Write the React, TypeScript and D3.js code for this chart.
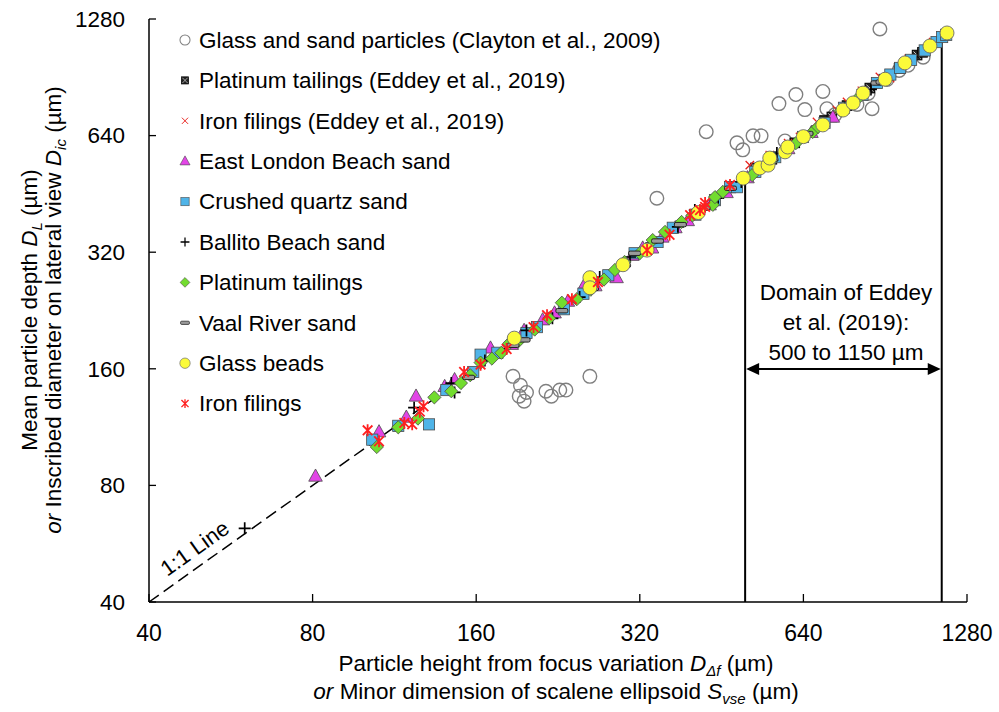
import React from "react";
import * as d3 from "d3";

const WIDTH = 999;
const HEIGHT = 712;
const FONT = "'Liberation Sans', Arial, sans-serif";

// Log2 axis ticks (µm)
const AXIS_TICKS = [40, 80, 160, 320, 640, 1280];

type Pt = [number, number];

// [particle height / minor dimension (µm), mean depth / inscribed diameter (µm)]
const claytonGlassSand: Pt[] = [
  [344, 441], [424, 655], [483, 613], [495, 588], [517, 639], [535, 639], [577, 774],
  [592, 620], [620, 817], [644, 747], [695, 832], [707, 751], [732, 725], [803, 770],
  [842, 822], [856, 751], [912, 894], [960, 943], [997, 972], [1063, 1020], [885, 1206],
  [187, 153], [193, 145], [192, 136], [198, 139], [196, 132], [215, 140], [220, 136],
  [228, 141], [234, 141], [259, 153],
];

const eddeyPlatinum: Pt[] = [
  [522, 528], [560, 556], [617, 613], [700, 700], [722, 715], [770, 765], [848, 849],
  [900, 895], [960, 955], [1036, 1033], [1060, 1050],
];

const eddeyIron: Pt[] = [
  [510, 537], [555, 570], [600, 612], [631, 635], [678, 694], [738, 745], [770, 782],
  [820, 835], [885, 907], [924, 901], [1000, 1010], [1109, 1116], [1125, 1120],
];

const eastLondonSand: Pt[] = [
  [81, 84.5], [106, 110], [119, 120], [124, 136], [140, 144], [146, 150], [170, 181],
  [186, 185], [196, 201], [212, 214], [223, 223], [236, 239], [254, 266], [265, 262],
  [290, 275], [310, 314], [324, 328], [337, 328], [352, 350], [372, 370], [392, 386],
  [430, 424], [462, 456], [505, 498], [548, 540], [600, 592], [662, 652], [725, 714],
];

const crushedQuartz: Pt[] = [
  [103, 105], [115, 114], [131, 115], [141, 141], [158, 157], [163, 174], [175, 176],
  [198, 198], [207, 205], [232, 228], [252, 250], [280, 279], [313, 318], [345, 340],
  [368, 370], [405, 400], [440, 436], [469, 471], [483, 471], [522, 516], [568, 563],
  [639, 635], [700, 690], [760, 755], [822, 815], [874, 875], [925, 920], [964, 957],
  [1010, 1004], [1070, 1062], [1125, 1116], [1152, 1150], [1172, 1165],
];

const ballitoSand: Pt[] = [
  [60, 62], [123, 127], [144, 147], [146, 139], [166, 168], [198, 201], [221, 216],
  [248, 245], [270, 276], [307, 311], [336, 338], [376, 372], [404, 411], [446, 441],
  [492, 486], [541, 534], [572, 577], [612, 606], [680, 672], [762, 752], [852, 842],
];

const platinumTailings: Pt[] = [
  [105, 100.5], [115, 113], [125, 119], [134, 135], [144, 140], [150, 147], [156, 154],
  [163, 166], [171, 170], [178, 176], [184, 186], [191, 188], [205, 202], [218, 216],
  [230, 237], [245, 242], [260, 256], [275, 272], [288, 288], [300, 302], [320, 318],
  [338, 344], [356, 361], [382, 383], [400, 398], [436, 424], [440, 444], [455, 458],
  [515, 506], [560, 553], [620, 612], [666, 654], [681, 674], [750, 742], [800, 790],
];

const vaalRiverSand: Pt[] = [
  [155, 152], [187, 184], [196, 190], [230, 226], [262, 258], [300, 296], [313, 318],
  [345, 342], [380, 377], [420, 416], [470, 468], [560, 556], [650, 648], [760, 752],
  [874, 875], [893, 880],
];

const glassBeads: Pt[] = [
  [188, 192], [259, 275], [259, 259], [298, 297], [330, 324], [410, 405], [496, 497],
  [532, 528], [551, 537], [555, 560], [592, 581], [599, 598], [640, 636], [695, 682],
  [757, 745], [790, 777], [824, 824], [905, 895], [984, 986], [1094, 1090], [1176, 1178],
];

const ironFilings: Pt[] = [
  [101, 111], [106, 104], [118, 116], [122, 115], [126, 124], [128, 128], [152, 157],
  [163, 164], [182, 180], [204, 205], [216, 220], [240, 242], [268, 268], [330, 324],
  [363, 355], [396, 399], [413, 411], [422, 419], [422, 429], [469, 477],
];

const LEGEND_LABELS = [
  "Glass and sand particles (Clayton et al., 2009)",
  "Platinum tailings (Eddey et al., 2019)",
  "Iron filings (Eddey et al., 2019)",
  "East London Beach sand",
  "Crushed quartz sand",
  "Ballito Beach sand",
  "Platinum tailings",
  "Vaal River sand",
  "Glass beads",
  "Iron filings",
];

const DOMAIN_BOUNDS = [500, 1150];
const DOMAIN_TEXT = ["Domain of Eddey", "et al. (2019):", "500 to 1150 µm"];

type Kind =
  | "ring" | "boxX" | "thinX" | "triangle" | "square" | "plus"
  | "diamond" | "dash" | "bead" | "star";

const SERIES: { kind: Kind; data: Pt[] }[] = [
  { kind: "ring", data: claytonGlassSand },
  { kind: "boxX", data: eddeyPlatinum },
  { kind: "thinX", data: eddeyIron },
  { kind: "triangle", data: eastLondonSand },
  { kind: "square", data: crushedQuartz },
  { kind: "plus", data: ballitoSand },
  { kind: "diamond", data: platinumTailings },
  { kind: "dash", data: vaalRiverSand },
  { kind: "bead", data: glassBeads },
  { kind: "star", data: ironFilings },
];

function Marker({ kind, x, y, k = 1 }: { kind: Kind; x: number; y: number; k?: number }) {
  const t = `translate(${x},${y}) scale(${k})`;
  const edge = "#4a4a4a";
  switch (kind) {
    case "ring":
      return <circle transform={t} r={6.8} fill="none" stroke="#7f7f7f" strokeWidth={1.4} />;
    case "boxX":
      return (
        <g transform={t}>
          <rect x={-4.8} y={-4.8} width={9.6} height={9.6} fill="#222" stroke="#000" strokeWidth={1} />
          <path d="M-3.6,-3.6L3.6,3.6M-3.6,3.6L3.6,-3.6" stroke="#d0d0d0" strokeWidth={1} />
        </g>
      );
    case "thinX":
      return <path transform={t} d="M-4.2,-4.2L4.2,4.2M-4.2,4.2L4.2,-4.2" stroke="#e8231f" strokeWidth={1.3} fill="none" />;
    case "triangle":
      return <path transform={t} d="M0,-7.2L6.8,5L-6.8,5Z" fill="#e245e6" stroke={edge} strokeWidth={0.8} />;
    case "square":
      return <rect transform={t} x={-5.6} y={-5.6} width={11.2} height={11.2} fill="#4fb4e8" stroke={edge} strokeWidth={0.8} />;
    case "plus":
      return <path transform={t} d="M-6,0H6M0,-6V6" stroke="#000" strokeWidth={1.7} fill="none" />;
    case "diamond":
      return <path transform={t} d="M0,-6.6L6.6,0L0,6.6L-6.6,0Z" fill="#72dc2e" stroke={edge} strokeWidth={0.8} />;
    case "dash":
      return <rect transform={t} x={-6} y={-2.2} width={12} height={4.4} rx={1.6} fill="#9a9a9a" stroke="#222" strokeWidth={1} />;
    case "bead":
      return <circle transform={t} r={7} fill="#fbfb3a" stroke="#6a6a6a" strokeWidth={0.9} />;
    case "star":
      return <path transform={t} d="M-4.8,-4.8L4.8,4.8M-4.8,4.8L4.8,-4.8M0,-6V6" stroke="#ff2020" strokeWidth={1.8} fill="none" />;
  }
}

export default function App() {
  const left = 149, right = 967, top = 19, bottom = 602;
  const x = d3.scaleLog().base(2).domain([40, 1280]).range([left, right]);
  const y = d3.scaleLog().base(2).domain([40, 1280]).range([bottom, top]);

  const oneToOne = d3.line<number>().x((v) => x(v)).y((v) => y(v))([40, 1180]);
  const angle = (Math.atan2(y(1280) - y(40), x(1280) - x(40)) * 180) / Math.PI;

  // "1:1 Line" label sits just above the dashed line near its origin
  const lblX = x(43.2), lblY = y(43.2);

  const arrowY = 369;
  const dx0 = x(DOMAIN_BOUNDS[0]), dx1 = x(DOMAIN_BOUNDS[1]);
  const fs = 22.5;

  return (
    <svg width={WIDTH} height={HEIGHT} style={{ position: "absolute", left: 0, top: 0, background: "#fff" }} fontFamily={FONT}>
      <rect width={WIDTH} height={HEIGHT} fill="#fff" />

      {/* axes */}
      <line x1={left} x2={left} y1={top} y2={bottom} stroke="#000" strokeWidth={1.5} />
      <line x1={left} x2={right} y1={bottom} y2={bottom} stroke="#000" strokeWidth={1.5} />
      {AXIS_TICKS.map((t) => (
        <g key={"yt" + t}>
          <line x1={left} x2={left + 7} y1={y(t)} y2={y(t)} stroke="#000" strokeWidth={1.3} />
          <text x={125} y={y(t)} dy="0.35em" textAnchor="end" fontSize={fs} fill="#000">{t}</text>
        </g>
      ))}
      {AXIS_TICKS.map((t) => (
        <g key={"xt" + t}>
          <line x1={x(t)} x2={x(t)} y1={bottom} y2={bottom - 8} stroke="#000" strokeWidth={1.3} />
          <text x={x(t)} y={633} dy="0.35em" textAnchor="middle" fontSize={23} fill="#000">{t}</text>
        </g>
      ))}

      {/* axis titles */}
      <text x={556} y={663} dy="0.35em" textAnchor="middle" fontSize={fs}>
        Particle height from focus variation <tspan fontStyle="italic">D</tspan>
        <tspan fontStyle="italic" fontSize={15} dy={5}>Δf</tspan>
        <tspan dy={-5}> (µm)</tspan>
      </text>
      <text x={556} y={691} dy="0.35em" textAnchor="middle" fontSize={fs}>
        <tspan fontStyle="italic">or</tspan> Minor dimension of scalene ellipsoid <tspan fontStyle="italic">S</tspan>
        <tspan fontStyle="italic" fontSize={15} dy={5}>vse</tspan>
        <tspan dy={-5}> (µm)</tspan>
      </text>
      <g transform="translate(29,310) rotate(-90)">
        <text x={0} y={0} dy="0.35em" textAnchor="middle" fontSize={fs}>
          Mean particle depth <tspan fontStyle="italic">D</tspan>
          <tspan fontStyle="italic" fontSize={15} dy={5}>L</tspan>
          <tspan dy={-5}> (µm)</tspan>
        </text>
      </g>
      <g transform="translate(53,310) rotate(-90)">
        <text x={0} y={0} dy="0.35em" textAnchor="middle" fontSize={fs}>
          <tspan fontStyle="italic">or</tspan> Inscribed diameter on lateral view <tspan fontStyle="italic">D</tspan>
          <tspan fontStyle="italic" fontSize={15} dy={5}>ic</tspan>
          <tspan dy={-5}> (µm)</tspan>
        </text>
      </g>

      {/* 1:1 line */}
      <path d={oneToOne ?? ""} fill="none" stroke="#000" strokeWidth={1.5} strokeDasharray="12 6" />
      <text transform={`translate(${lblX},${lblY - 12}) rotate(${angle})`} fontSize={22} fill="#000">1:1 Line</text>

      {/* domain of Eddey et al. */}
      <line x1={dx0} x2={dx0} y1={bottom} y2={y(DOMAIN_BOUNDS[0])} stroke="#000" strokeWidth={2} />
      <line x1={dx1} x2={dx1} y1={bottom} y2={y(DOMAIN_BOUNDS[1])} stroke="#000" strokeWidth={2} />
      <line x1={dx0 + 10} x2={dx1 - 10} y1={arrowY} y2={arrowY} stroke="#000" strokeWidth={2} />
      <path d={`M${dx0 + 1},${arrowY}L${dx0 + 14},${arrowY - 6}L${dx0 + 14},${arrowY + 6}Z`} fill="#000" />
      <path d={`M${dx1 - 1},${arrowY}L${dx1 - 14},${arrowY - 6}L${dx1 - 14},${arrowY + 6}Z`} fill="#000" />
      {DOMAIN_TEXT.map((s, i) => (
        <text key={s} x={846} y={292 + i * 30} dy="0.35em" textAnchor="middle" fontSize={fs}>{s}</text>
      ))}

      {/* data */}
      {SERIES.map((s) => (
        <g key={s.kind}>
          {s.data.map((p, i) => (
            <Marker key={i} kind={s.kind} x={x(p[0])} y={y(p[1])} />
          ))}
        </g>
      ))}

      {/* legend */}
      {SERIES.map((s, i) => {
        const ly = 40 + i * 40.4;
        return (
          <g key={"lg" + i}>
            <Marker kind={s.kind} x={185} y={ly} k={0.74} />
            <text x={199} y={ly} dy="0.35em" fontSize={fs} fill="#000">{LEGEND_LABELS[i]}</text>
          </g>
        );
      })}
    </svg>
  );
}
